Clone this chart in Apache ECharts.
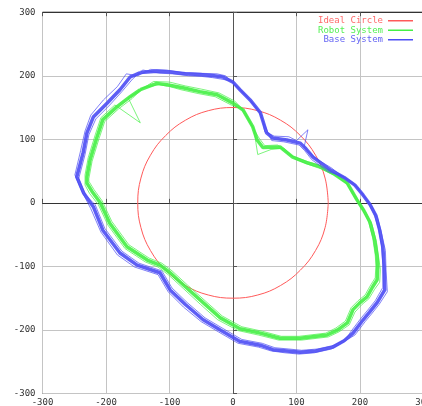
<!DOCTYPE html>
<html>
<head>
<meta charset="utf-8">
<script src="https://cdn.jsdelivr.net/npm/echarts@6/dist/echarts.min.js"></script>
<style>
html, body { margin: 0; padding: 0; background: #fff; }
#chart { width: 422px; height: 406px; }
</style>
</head>
<body>
<div id="chart"></div>
<script>
// ideal circle, r = 150
var idealCircle = [[150,0],[145,39],[130,75],[106,106],[75,130],[39,145],[0,150],[-39,145],[-75,130],[-106,106],[-130,75],[-145,39],[-150,0],[-145,-39],[-130,-75],[-106,-106],[-75,-130],[-39,-145],[0,-150],[39,-145],[75,-130],[106,-106],[130,-75],[145,-39],[150,0]];

// robot system laps
var robotLap1 = [[-146,178],[-120,188],[-104,186],[-79,181],[-52,175],[-25,170],[0,157],[16,146],[31,120],[38,99],[47,87],[74,88],[94,72],[117,63],[137,57],[160,45],[180,31],[195,5],[206,-12],[216,-31],[223,-58],[227,-85],[228,-101],[227,-121],[220,-132],[211,-148],[200,-157],[189,-168],[180,-189],[165,-200],[148,-208],[106,-213],[74,-213],[43,-205],[11,-198],[-20,-181],[-47,-157],[-75,-132],[-99,-110],[-115,-98],[-135,-90],[-167,-69],[-194,-32],[-209,0],[-222,18],[-230,31],[-230,41],[-225,68],[-214,104],[-205,131],[-183,151],[-162,167],[-146,178]];
var robotLap2 = [[-150,175],[-125,191],[-100,190],[-75,184],[-50,179],[-22,173],[3,160],[19,143],[33,116],[36,95],[39,76],[60,84],[80,86],[98,69],[120,60],[140,53],[163,42],[183,27],[198,2],[209,-15],[219,-35],[226,-62],[230,-90],[232,-105],[231,-125],[223,-136],[214,-151],[203,-160],[192,-172],[183,-192],[167,-203],[150,-211],[108,-216],[72,-216],[40,-208],[8,-201],[-24,-184],[-51,-160],[-78,-135],[-102,-113],[-118,-101],[-138,-93],[-170,-72],[-197,-35],[-212,-3],[-226,15],[-233,28],[-233,44],[-228,71],[-217,107],[-208,134],[-186,154],[-146,126],[-165,165],[-150,175]];
var robotLap3 = [[-142,181],[-116,186],[-100,183],[-82,178],[-55,172],[-28,167],[-3,154],[13,149],[28,124],[41,102],[50,90],[70,91],[90,75],[114,66],[134,60],[157,48],[177,34],[192,8],[203,-9],[213,-28],[220,-55],[224,-82],[225,-98],[224,-118],[217,-129],[208,-145],[197,-154],[186,-165],[177,-186],[162,-197],[146,-205],[104,-210],[76,-210],[46,-202],[14,-195],[-17,-178],[-44,-154],[-72,-129],[-96,-107],[-112,-95],[-132,-87],[-164,-66],[-191,-29],[-206,3],[-219,21],[-227,34],[-227,38],[-222,65],[-211,101],[-202,128],[-180,148],[-159,164],[-142,181]];

// base system laps
var baseLap1 = [[-146,205],[-120,207],[-99,206],[-75,203],[-52,202],[-30,200],[-16,198],[0,190],[11,178],[27,162],[43,142],[53,110],[63,102],[85,99],[106,94],[115,85],[126,72],[153,52],[175,40],[192,28],[205,12],[216,-3],[225,-20],[231,-43],[236,-70],[238,-100],[239,-137],[227,-157],[215,-172],[205,-184],[189,-205],[175,-217],[157,-227],[130,-233],[106,-235],[85,-233],[63,-231],[43,-224],[11,-218],[-20,-200],[-47,-184],[-75,-160],[-99,-137],[-115,-110],[-151,-98],[-178,-79],[-205,-43],[-220,-6],[-235,15],[-246,41],[-236,79],[-230,110],[-220,135],[-198,157],[-178,178],[-162,198],[-146,205]];
var baseLap2 = [[-150,200],[-130,210],[-105,209],[-80,205],[-55,204],[-25,203],[-12,200],[3,186],[15,175],[30,158],[45,138],[50,112],[65,105],[88,104],[100,98],[118,115],[112,88],[130,70],[155,55],[178,37],[195,25],[208,9],[219,-6],[228,-25],[234,-48],[240,-75],[241,-105],[243,-140],[230,-160],[218,-175],[208,-187],[192,-208],[172,-220],[155,-230],[128,-236],[104,-238],[82,-236],[60,-233],[40,-227],[8,-221],[-23,-203],[-50,-187],[-78,-164],[-102,-140],[-118,-113],[-155,-101],[-182,-82],[-208,-46],[-224,-9],[-238,18],[-249,44],[-240,82],[-233,113],[-224,138],[-204,162],[-182,183],[-168,203],[-150,200]];
var baseLap3 = [[-142,209],[-115,204],[-95,203],[-70,200],[-50,199],[-32,197],[-20,195],[-3,192],[8,180],[24,165],[40,146],[56,108],[61,98],[80,96],[104,91],[113,82],[124,68],[150,49],[173,42],[190,31],[203,15],[213,0],[222,-17],[229,-40],[234,-67],[236,-97],[236,-133],[224,-154],[212,-169],[202,-181],[186,-202],[178,-214],[160,-224],[133,-230],[108,-232],[88,-230],[66,-228],[46,-221],[14,-215],[-17,-197],[-44,-181],[-72,-157],[-96,-134],[-112,-107],[-148,-95],[-175,-76],[-202,-40],[-217,-3],[-232,12],[-243,38],[-233,76],[-227,107],[-216,132],[-194,154],[-175,175],[-158,195],[-142,209]];

var axisTicks = [-300, -200, -100, 0, 100, 200, 300];

var red = '#ff5a5a', green = '#44f044', blue = '#4c4cf4';
var font = 'DejaVu Sans Mono';

function lap(name, data, color, width, opacity) {
    return {
        name: name,
        type: 'line',
        data: data,
        showSymbol: false,
        symbol: 'none',
        silent: true,
        animation: false,
        color: color,
        lineStyle: {color: color, width: width, opacity: opacity}
    };
}

var myChart = echarts.init(document.getElementById('chart'), null, {renderer: 'canvas'});
var options = {
    animation: false,
    backgroundColor: '#fff',
    grid: {
        left: 42.5, right: -1.5, top: 12.2, bottom: 12.5,
        outerBoundsMode: 'none',
        containLabel: false,
        show: true, borderColor: '#333', borderWidth: 1, backgroundColor: 'transparent'
    },
    legend: {
        orient: 'vertical',
        right: 9,
        top: 16,
        padding: 0,
        align: 'right',
        icon: 'rect',
        itemWidth: 25,
        itemHeight: 1.5,
        itemGap: 0,
        textStyle: {fontFamily: font, fontSize: 9, lineHeight: 9.5, padding: [0, 0, 0, 0]},
        data: [
            {name: 'Ideal Circle', textStyle: {color: '#ff6a6a'}},
            {name: 'Robot System', textStyle: {color: '#55f055'}},
            {name: 'Base System', textStyle: {color: '#6464f4'}}
        ]
    },
    xAxis: [{
        type: 'value',
        min: axisTicks[0],
        max: axisTicks[axisTicks.length - 1],
        interval: 100,
        axisLine: {show: true, lineStyle: {color: '#333'}},
        axisTick: {show: true, inside: true, length: 4, lineStyle: {color: '#555'}},
        axisLabel: {fontFamily: font, fontSize: 9, color: '#333', margin: 5, showMaxLabel: true},
        splitLine: {show: true, lineStyle: {color: '#c4c4c4'}}
    }, {
        type: 'value',
        position: 'top',
        min: axisTicks[0],
        max: axisTicks[axisTicks.length - 1],
        interval: 100,
        axisLine: {show: true, lineStyle: {color: '#333'}},
        axisTick: {show: true, inside: true, length: 4, lineStyle: {color: '#555'}},
        axisLabel: {show: false},
        splitLine: {show: false}
    }],
    yAxis: {
        type: 'value',
        min: axisTicks[0],
        max: axisTicks[axisTicks.length - 1],
        interval: 100,
        axisLine: {show: true, lineStyle: {color: '#555'}},
        axisTick: {show: true, inside: true, length: 4, lineStyle: {color: '#555'}},
        axisLabel: {fontFamily: font, fontSize: 9, color: '#333', margin: 7},
        splitLine: {show: true, lineStyle: {color: '#c4c4c4'}}
    },
    series: [
        lap('Ideal Circle', idealCircle, red, 1, 1),
        lap('Robot System', robotLap1, green, 3.5, 0.9),
        lap('Robot System', robotLap2, green, 1, 0.7),
        lap('Robot System', robotLap3, green, 1, 0.7),
        lap('Base System', baseLap1, blue, 3.5, 0.9),
        lap('Base System', baseLap2, blue, 1, 0.7),
        lap('Base System', baseLap3, blue, 1, 0.7)
    ]
};
options.series[0].smooth = 0.4;

myChart.setOption(options);
</script>
</body>
</html>
